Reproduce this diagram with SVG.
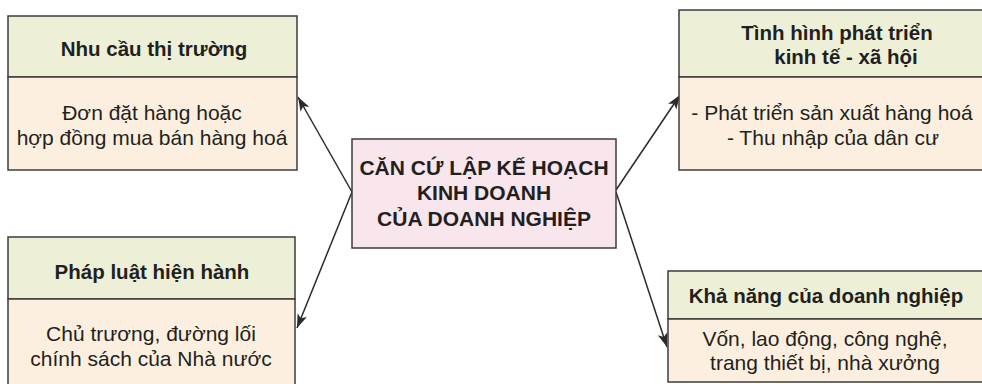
<svg xmlns="http://www.w3.org/2000/svg" width="982" height="384" viewBox="0 0 982 384">
<defs>
<marker id="ah" markerWidth="15" markerHeight="11" refX="14" refY="5.5" orient="auto" markerUnits="userSpaceOnUse">
<path d="M0,0.5 L14,5.5 L0,10.5 L3.5,5.5 Z" fill="#2b2b2b"/>
</marker>
<style>
.hd{fill:#edf0d7;stroke:#3d3d3d;stroke-width:1.5}
.bd{fill:#fcefdf;stroke:#3d3d3d;stroke-width:1.5}
.ct{fill:#f9e6ec;stroke:#3d3d3d;stroke-width:1.5}
text{font-family:"Liberation Sans",Arial,sans-serif;fill:#231f20;text-anchor:middle}
.b{font-weight:bold;font-size:20.5px}
.r{font-size:21px}
.c{font-weight:bold;font-size:21px}
.ln{stroke:#2b2b2b;stroke-width:1.5;fill:none;marker-end:url(#ah)}
</style>
</defs>
<rect width="982" height="384" fill="#ffffff"/>
<g id="connectors">
<line class="ln" x1="352" y1="192" x2="298" y2="97"/>
<line class="ln" x1="352" y1="192" x2="297" y2="328"/>
<line class="ln" x1="616" y1="190" x2="680" y2="95"/>
<line class="ln" x1="616" y1="192" x2="667" y2="347"/>
</g>
<g id="node-center">
<rect class="ct" x="352" y="139" width="264" height="109"/>
<text class="c" x="484" y="175">CĂN CỨ LẬP KẾ HOẠCH</text>
<text class="c" x="484" y="200">KINH DOANH</text>
<text class="c" x="484" y="226">CỦA DOANH NGHIỆP</text>
</g>
<g id="node-thi-truong">
<rect class="hd" x="8" y="16" width="289" height="61"/>
<rect class="bd" x="8" y="77" width="289" height="93"/>
<text class="b" x="154" y="56">Nhu cầu thị trường</text>
<text class="r" x="152" y="120">Đơn đặt hàng hoặc</text>
<text class="r" x="152" y="145">hợp đồng mua bán hàng hoá</text>
</g>
<g id="node-phap-luat">
<rect class="hd" x="8" y="237" width="287" height="62"/>
<rect class="bd" x="8" y="299" width="287" height="95"/>
<text class="b" x="152" y="279">Pháp luật hiện hành</text>
<text class="r" x="151" y="341">Chủ trương, đường lối</text>
<text class="r" x="151" y="366">chính sách của Nhà nước</text>
</g>
<g id="node-kinh-te">
<rect class="hd" x="679" y="10" width="310" height="67"/>
<rect class="bd" x="679" y="77" width="310" height="93"/>
<text class="b" x="837" y="40">Tình hình phát triển</text>
<text class="b" x="846" y="64">kinh tế - xã hội</text>
<text class="r" x="832" y="120">- Phát triển sản xuất hàng hoá</text>
<text class="r" x="833" y="145">- Thu nhập của dân cư</text>
</g>
<g id="node-kha-nang">
<rect class="hd" x="668" y="271" width="320" height="48"/>
<rect class="bd" x="668" y="319" width="320" height="63"/>
<text class="b" x="826" y="303">Khả năng của doanh nghiệp</text>
<text class="r" x="825" y="346">Vốn, lao động, công nghệ,</text>
<text class="r" x="825" y="370">trang thiết bị, nhà xưởng</text>
</g>
</svg>
